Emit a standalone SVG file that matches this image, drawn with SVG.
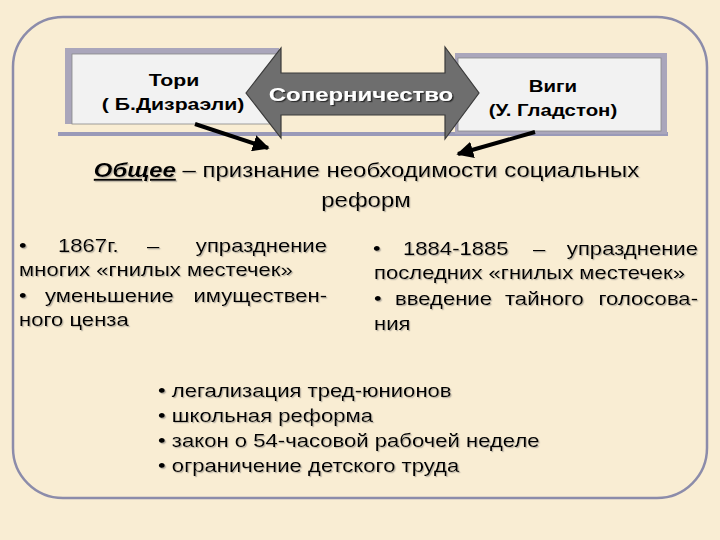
<svg xmlns="http://www.w3.org/2000/svg" width="720" height="540" viewBox="0 0 720 540">
<defs>
<filter id="sh" x="-5%" y="-20%" width="110%" height="140%">
<feDropShadow dx="1.2" dy="1.2" stdDeviation="0.3" flood-color="#a09a90" flood-opacity="0.7"/>
</filter>
<filter id="shw" x="-5%" y="-20%" width="110%" height="140%">
<feDropShadow dx="1.2" dy="1.2" stdDeviation="0.2" flood-color="#222" flood-opacity="0.9"/>
</filter>
<marker id="ah" viewBox="0 0 10 10" refX="9" refY="5" markerWidth="4.2" markerHeight="4.2" orient="auto" markerUnits="strokeWidth">
<path d="M0,0 L10,5 L0,10 z" fill="#000"/>
</marker>
</defs>
<style>
text{font-family:"Liberation Sans",Arial,sans-serif;fill:#000}
.t{font-size:19px}
.e{text-anchor:end}
.b{font-size:17px;font-weight:bold;text-anchor:middle}
.conn{stroke:#000;stroke-width:4;fill:none}
</style>
<rect width="720" height="540" fill="#f9edd3"/>
<rect x="13" y="17" width="694" height="481" rx="50" ry="50" fill="none" stroke="#8c8caa" stroke-width="2.5"/>
<line x1="58" y1="134" x2="668" y2="134" stroke="#9a9ab8" stroke-width="4"/>
<g id="tori">
<rect x="65" y="48" width="214" height="76" fill="#aaa6bb"/>
<rect x="72" y="54" width="207" height="70" fill="#f2f2f2" stroke="#888" stroke-width="0.8"/>
<text class="b" transform="translate(174,86) scale(1.25,1)">Тори</text>
<text class="b" transform="translate(173,110) scale(1.25,1)">( Б.Дизраэли)</text>
</g>
<g id="vigi">
<rect x="455" y="53" width="212" height="81" fill="#aaa6bb"/>
<rect x="458" y="58" width="203" height="73" fill="#f2f2f2" stroke="#888" stroke-width="0.8"/>
<text class="b" transform="translate(553,92) scale(1.2,1)">Виги</text>
<text class="b" transform="translate(553,116) scale(1.2,1)">(У. Гладстон)</text>
</g>
<g id="rivalry">
<polygon points="246,93 281,48 281,73 445,73 445,47 479,93 445,139 445,115 281,115 281,138" fill="#6e6e6e" stroke="#3a3a3a" stroke-width="1.2"/>
<text transform="translate(361,101) scale(1.26,1)" font-size="19" font-weight="bold" text-anchor="middle" style="fill:#fff" filter="url(#shw)">Соперничество</text>
</g>
<g id="connectors">
<line class="conn" x1="195" y1="124" x2="268" y2="148" marker-end="url(#ah)"/>
<line class="conn" x1="535" y1="132" x2="458" y2="154" marker-end="url(#ah)"/>
</g>
<g id="common" filter="url(#sh)">
<text transform="translate(366.5,177) scale(1.2,1)" font-size="20" text-anchor="middle"><tspan font-weight="bold" font-style="italic" text-decoration="underline">Общее</tspan> – признание необходимости социальных</text>
<text transform="translate(366,207) scale(1.2,1)" font-size="20" text-anchor="middle">реформ</text>
</g>
<g id="tory-list" filter="url(#sh)">
<text class="t" transform="translate(19,252) scale(1.163,1)">•</text>
<text class="t" transform="translate(58,252) scale(1.163,1)">1867г.</text>
<text class="t" transform="translate(147,252) scale(1.163,1)">–</text>
<text class="t e" transform="translate(327,252) scale(1.163,1)">упразднение</text>
<text class="t" transform="translate(19,276) scale(1.163,1)">многих «гнилых местечек»</text>
<text class="t" transform="translate(19,302) scale(1.163,1)">•</text>
<text class="t" transform="translate(45,302) scale(1.163,1)">уменьшение</text>
<text class="t e" transform="translate(327,302) scale(1.163,1)">имуществен-</text>
<text class="t" transform="translate(19,326) scale(1.163,1)">ного ценза</text>
</g>
<g id="whig-list" filter="url(#sh)">
<text class="t" transform="translate(373,255) scale(1.163,1)">•</text>
<text class="t" transform="translate(403,255) scale(1.163,1)">1884-1885</text>
<text class="t" transform="translate(533,255) scale(1.163,1)">–</text>
<text class="t e" transform="translate(698,255) scale(1.163,1)">упразднение</text>
<text class="t" transform="translate(374,279) scale(1.163,1)">последних «гнилых местечек»</text>
<text class="t" transform="translate(374,305) scale(1.163,1)">•</text>
<text class="t" transform="translate(395,305) scale(1.163,1)">введение</text>
<text class="t" transform="translate(505,305) scale(1.163,1)">тайного</text>
<text class="t e" transform="translate(698,305) scale(1.163,1)">голосова-</text>
<text class="t" transform="translate(374,330) scale(1.163,1)">ния</text>
</g>
<g id="common-list" filter="url(#sh)">
<text class="t" transform="translate(158,397) scale(1.163,1)">• легализация тред-юнионов</text>
<text class="t" transform="translate(158,422) scale(1.163,1)">• школьная реформа</text>
<text class="t" transform="translate(158,447) scale(1.163,1)">• закон о 54-часовой рабочей неделе</text>
<text class="t" transform="translate(158,472) scale(1.163,1)">• ограничение детского труда</text>
</g>
</svg>
